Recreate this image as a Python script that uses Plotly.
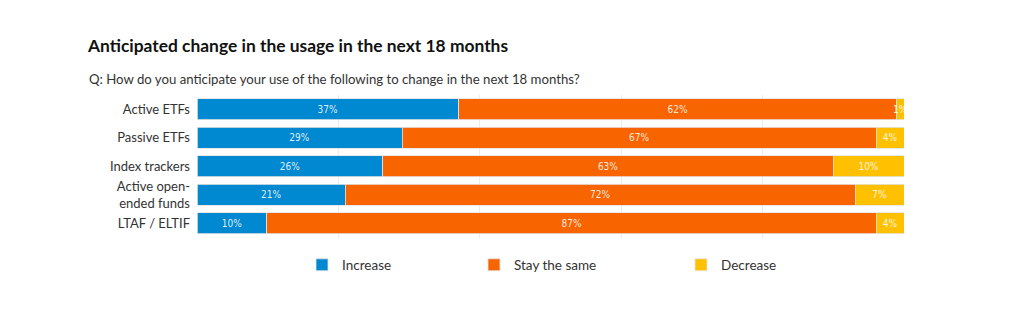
import plotly.graph_objects as go

categories = ["Active ETFs", "Passive ETFs", "Index trackers", "Active open-<br>ended funds", "LTAF / ELTIF"]
# bar lengths (percent of respondents)
increase = [37.0, 29.0, 26.3, 21.0, 9.9]
stay_same = [62.0, 67.1, 63.7, 72.1, 86.2]
decrease = [1.0, 3.9, 10.0, 6.9, 3.9]
# printed labels
increase_labels = ["37%", "29%", "26%", "21%", "10%"]
stay_same_labels = ["62%", "67%", "63%", "72%", "87%"]
decrease_labels = ["1%", "4%", "10%", "7%", "4%"]
series_names = ["Increase", "Stay the same", "Decrease"]
colors = ["#0088d1", "#f76400", "#ffc000"]

W, H = 1024, 323
L, R, T, B = 197, 120, 95, 80

fig = go.Figure()
legends = ["legend", "legend2", "legend3"]
for name, vals, labs, col, lg in zip(series_names, [increase, stay_same, decrease],
                                     [increase_labels, stay_same_labels, decrease_labels], colors, legends):
    fig.add_trace(go.Bar(
        y=categories, x=vals, name=name, orientation="h",
        marker=dict(color=col, line=dict(color="#e4e4e4", width=0.8)),
        text=labs, textposition="inside", insidetextanchor="middle",
        textangle=0,
        textfont=dict(family="DejaVu Sans Condensed, Roboto, sans-serif", size=10, color="rgba(255,255,255,0.88)"),
        legend=lg, hoverinfo="skip",
    ))

leg_common = dict(orientation="h", xref="container", yref="container", yanchor="middle",
                  font=dict(family="Lato, Open Sans, sans-serif", size=13.5, color="#333333"),
                  bgcolor="rgba(0,0,0,0)", borderwidth=0)
leg_x = [302, 474, 681]

fig.update_layout(
    width=W, height=H,
    margin=dict(l=L, r=R, t=T, b=B),
    barmode="stack", bargap=0.28,
    plot_bgcolor="white", paper_bgcolor="white",
    uniformtext=dict(minsize=10, mode="show"),
    xaxis=dict(range=[0, 100], showticklabels=False, showgrid=True, gridcolor="#ececec",
               gridwidth=1, dtick=20, zeroline=False, showline=False, fixedrange=True),
    yaxis=dict(autorange="reversed", showgrid=False, zeroline=False, ticks="",
               ticklabelstandoff=6,
               tickfont=dict(family="Lato, Open Sans, sans-serif", size=13, color="#333333")),
    title=dict(text="<b>Anticipated change in the usage in the next 18 months</b>",
               xref="container", yref="container", x=88 / W, y=1 - 46 / H,
               xanchor="left", yanchor="middle",
               font=dict(family="Lato, Open Sans, sans-serif", size=17.4, color="#111111")),
    legend=dict(x=leg_x[0] / W, y=1 - 265 / H, **leg_common),
    legend2=dict(x=leg_x[1] / W, y=1 - 265 / H, **leg_common),
    legend3=dict(x=leg_x[2] / W, y=1 - 265 / H, **leg_common),
    showlegend=True,
)

fig.add_annotation(
    text="Q: How do you anticipate your use of the following to change in the next 18 months?",
    xref="paper", yref="paper",
    x=(87 - L) / (W - L - R), y=1 + (T - 78) / (H - T - B),
    xanchor="left", yanchor="middle", showarrow=False,
    font=dict(family="Lato, Open Sans, sans-serif", size=13.2, color="#333333"),
)

fig.write_html("out.html")
